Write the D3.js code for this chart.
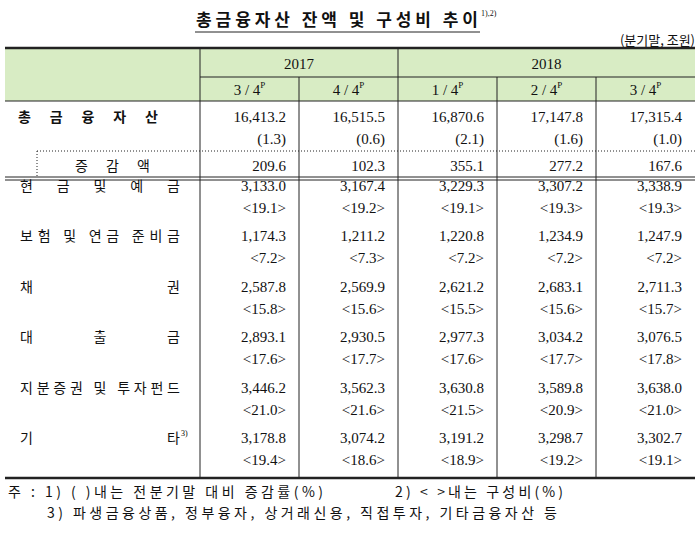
<!DOCTYPE html><html><head><meta charset="utf-8"><script src="https://d3js.org/d3.v7.min.js"></script>
<style>body{margin:0;background:#fff}</style></head><body><svg id="c" width="700" height="533"></svg>
<script>
const years=["2017","2018"];
const quarters=["3/4","4/4","1/4","2/4","3/4"];
const total=["16,413.2","16,515.5","16,870.6","17,147.8","17,315.4"];
const totalChg=["(1.3)","(0.6)","(2.1)","(1.6)","(1.0)"];
const diff=["209.6","102.3","355.1","277.2","167.6"];
const cats=["현금및예금","보험 및 연금 준비금","채권","대출금","지분증권 및 투자펀드","기타"];
const vals=[["3,133.0","3,167.4","3,229.3","3,307.2","3,338.9"],["1,174.3","1,211.2","1,220.8","1,234.9","1,247.9"],["2,587.8","2,569.9","2,621.2","2,683.1","2,711.3"],["2,893.1","2,930.5","2,977.3","3,034.2","3,076.5"],["3,446.2","3,562.3","3,630.8","3,589.8","3,638.0"],["3,178.8","3,074.2","3,191.2","3,298.7","3,302.7"]];
const shares=[["<19.1>","<19.2>","<19.1>","<19.3>","<19.3>"],["<7.2>","<7.3>","<7.2>","<7.2>","<7.2>"],["<15.8>","<15.6>","<15.5>","<15.6>","<15.7>"],["<17.6>","<17.7>","<17.6>","<17.7>","<17.8>"],["<21.0>","<21.6>","<21.5>","<20.9>","<21.0>"],["<19.4>","<18.6>","<18.9>","<19.2>","<19.1>"]];
const svg=d3.select("#c");
const kr="'Noto Sans CJK KR',sans-serif", sr="'Liberation Serif',serif";
const x=d3.scaleBand().domain(d3.range(5)).range([200,695]);
const line=(x1,y1,x2,y2,w=1,dash=null)=>svg.append("line").attr("x1",x1).attr("y1",y1).attr("x2",x2).attr("y2",y2).attr("stroke","#222").attr("stroke-width",w).attr("stroke-dasharray",dash);
const txt=(s,xx,yy,o={})=>{const t=svg.append("text").attr("x",xx).attr("y",yy).attr("font-family",o.f||sr).attr("font-size",o.s||14).attr("text-anchor",o.a||"middle").attr("fill","#111").attr("font-weight",o.b?"bold":null).text(s);if(o.len)t.attr("textLength",o.len).attr("lengthAdjust","spacing");return t;};
const R=13;
// title
txt("총금융자산 잔액 및 구성비 추이",196,26,{f:kr,s:17,b:1,a:"start",len:282});
txt("1),2)",481,16,{s:8,a:"start"});
line(195,32,480,32,1);
txt("(분기말, 조원)",695,45,{f:kr,s:13,a:"end"});
// header
svg.append("rect").attr("x",5).attr("y",49).attr("width",690).attr("height",52).attr("fill","#d8ecc4");
line(5,48,695,48,2.5);
line(200,77,695,77,1);
line(5,101,695,101,1);
txt(years[0],x(0)+x.bandwidth(),69,{s:15});
txt(years[1],x(3)+x.bandwidth()/2,69,{s:15});
quarters.forEach((q,i)=>{const t=txt(q.replace("/"," / "),x(i)+x.bandwidth()/2,95,{s:15});t.append("tspan").attr("dy",-7).attr("font-size",9).text("P");});
// verticals
line(200,48,200,478);
[1,3,4].forEach(i=>line(x(i),77,x(i),478));
line(x(2),48,x(2),478);
// total
txt("총금융자산",18,122,{f:kr,s:14,b:1,a:"start",len:140});
total.forEach((v,i)=>txt(v,x(i)+x.bandwidth()-R,122,{a:"end",s:15}));
totalChg.forEach((v,i)=>txt(v,x(i)+x.bandwidth()-R,144,{a:"end",s:15}));
line(37,151,695,151,1,"1,2");
line(37,151,37,177,1,"1,2");
txt("증감액",75,171,{f:kr,s:14,a:"start",len:75});
diff.forEach((v,i)=>txt(v,x(i)+x.bandwidth()-R,171,{a:"end",s:15}));
line(5,177,695,177,1);line(5,180,695,180,1);
const rowY=d3.scalePoint().domain(d3.range(6)).range([191,443]);
cats.forEach((c,j)=>{
  const y=rowY(j);
  txt(c,20,y,{f:kr,s:14,a:"start",len:160});
  if(j==5) svg.append("text").attr("x",181).attr("y",y-7).attr("font-family",sr).attr("font-size",8).text("3)");
  vals[j].forEach((v,i)=>txt(v,x(i)+x.bandwidth()-R,y,{a:"end",s:15}));
  shares[j].forEach((v,i)=>txt(v,x(i)+x.bandwidth()-R,y+22,{a:"end",s:15}));
});
line(5,478,695,478,2.5);
txt("주 : 1) ( )내는 전분기말 대비 증감률(%)",8,497,{f:kr,s:14,a:"start",len:315});
txt("2) < >내는 구성비(%)",395,497,{f:kr,s:14,a:"start",len:168});
txt("3) 파생금융상품, 정부융자, 상거래신용, 직접투자, 기타금융자산 등",47,518,{f:kr,s:14,a:"start",len:510});
</script></body></html>
